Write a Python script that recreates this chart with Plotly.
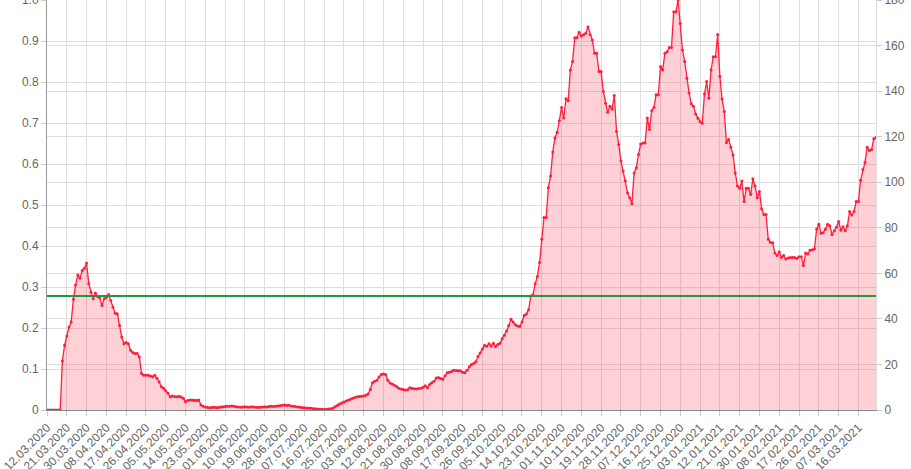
import plotly.graph_objects as go
import pandas as pd

start_date = "2020-03-12"

# daily values (right-axis units)
incidence = [
    0, 0, 0, 0, 0, 0, 0,
    21.5, 28.4, 32.5, 36.4, 38.6, 48.6, 54.9, 59.3, 57.8, 61.2, 62.2, 64.5,
    55.4, 51.7, 48.8, 51.4, 49.8, 49.3, 45.9, 48.8, 49.5, 50.7, 48.1, 45.1,
    42.5, 42.3, 37.1, 32.0, 29.1, 29.6, 29.1, 26.2, 25.2, 24.8, 24.8, 23.3,
    16.0, 15.3, 15.3, 15.3, 14.9, 14.6, 15.3, 13.9, 12.4, 10.2, 9.5, 8.4,
    7.3, 5.8, 6.1, 5.9, 5.8, 6.0, 5.7, 5.2, 3.6, 4.2, 4.4, 4.4, 4.2, 4.1, 4.4, 2.2,
    1.6, 1.3, 1.1, 1.0, 1.1, 1.2, 1.0, 1.1, 1.3, 1.4, 1.5, 1.7, 1.6, 1.8, 1.6, 1.4,
    1.3, 1.2, 1.3, 1.4, 1.3, 1.2, 1.4, 1.3, 1.2, 1.1, 1.2, 1.3, 1.4, 1.3,
    1.5, 1.6, 1.5, 1.7, 1.8, 1.9, 2.1, 2.2, 2.0, 2.1, 1.8, 1.6, 1.5, 1.3, 1.2,
    1.1, 1.0, 0.9, 0.8, 0.8, 0.6, 0.5, 0.4, 0.3, 0.3, 0.2, 0.3, 0.4, 0.6, 0.8,
    1.4, 2.0, 2.6, 3.1, 3.5, 3.9, 4.3, 4.7, 5.2, 5.5, 5.8, 5.9, 6.0, 6.2, 6.5, 7.0,
    9.0, 12.0, 12.6, 13.1, 14.5, 15.6, 15.8, 15.6, 13.1, 11.9, 11.4, 10.9, 10.3, 9.5,
    9.2, 9.0, 8.8, 8.9, 9.8, 9.5, 9.3, 9.2, 9.4, 9.5, 10.0, 10.6, 9.8, 11.2, 12.0,
    12.6, 14.0, 14.3, 13.8, 13.5, 15.0, 16.3, 16.6, 16.9, 17.4, 17.3, 17.2, 17.2, 16.6, 16.4,
    17.4, 19.0, 20.0, 20.4, 21.2, 23.5, 25.0, 26.8, 28.4, 28.0, 29.1, 28.1, 29.3, 27.9, 28.8,
    29.3, 31.3, 32.8, 34.7, 37.1, 39.8, 38.6, 37.4, 36.9, 36.7, 38.6, 41.5, 42.2, 44.0, 50.0, 50.6, 55.4, 58.6,
    64.8, 75.0, 84.5, 84.5, 97.6, 102.7, 113.3, 119.4, 121.9, 127.0, 132.8, 128.2, 136.7, 135.8, 149.3, 153.0,
    163.4, 163.4, 165.8, 164.2, 164.7, 165.4, 168.2, 164.7, 162.4, 156.6, 156.6, 148.6, 148.6, 139.8, 134.7, 130.7,
    133.3, 132.0, 138.1, 122.4, 116.6, 109.3, 104.9, 100.6, 95.4, 93.2, 90.6, 104.1, 106.3, 112.2, 116.8, 117.2,
    117.2, 128.2, 123.1, 131.4, 132.8, 138.4, 138.4, 150.8, 149.3, 156.6, 157.3, 159.1, 159.1, 174.8, 174.8, 180.0,
    169.7, 158.0, 153.0, 145.7, 139.2, 134.4, 133.3, 130.0, 128.1, 126.6, 125.9, 138.7, 144.2, 136.9, 149.3, 155.1,
    155.1, 164.9, 146.4, 136.5, 131.1, 117.3, 118.8, 115.4, 111.9, 104.1, 98.3, 97.3, 100.5, 91.5, 97.3, 97.3,
    94.6, 101.5, 98.3, 93.2, 95.9, 88.3, 85.8, 85.8, 75.0, 73.7, 73.4, 68.9, 67.8, 69.5, 67.0, 67.8,
    66.3, 66.7, 67.0, 67.0, 67.0, 66.5, 67.3, 67.3, 63.4, 68.9, 68.5, 70.1, 70.3, 70.7, 79.4, 81.6,
    77.6, 77.8, 79.4, 81.6, 80.9, 77.0, 78.7, 80.2, 82.8, 78.9, 80.4, 78.7, 80.9, 87.1, 85.6, 87.1,
    91.5, 91.5, 100.9, 105.6, 108.8, 115.4, 113.9, 114.4, 119.1, 119.6,
]

threshold = 50

tick_labels = [
    "12.03.2020", "21.03.2020", "30.03.2020", "08.04.2020", "17.04.2020", "26.04.2020",
    "05.05.2020", "14.05.2020", "23.05.2020", "01.06.2020", "10.06.2020", "19.06.2020",
    "28.06.2020", "07.07.2020", "16.07.2020", "25.07.2020", "03.08.2020", "12.08.2020",
    "21.08.2020", "30.08.2020", "08.09.2020", "17.09.2020", "26.09.2020", "05.10.2020",
    "14.10.2020", "23.10.2020", "01.11.2020", "10.11.2020", "19.11.2020", "28.11.2020",
    "07.12.2020", "16.12.2020", "25.12.2020", "03.01.2021", "12.01.2021", "21.01.2021",
    "30.01.2021", "08.02.2021", "17.02.2021", "26.02.2021", "07.03.2021", "16.03.2021",
]

left_ticks = [0, 0.1, 0.2, 0.3, 0.4, 0.5, 0.6, 0.7, 0.8, 0.9, 1.0]
left_tick_text = ["0", "0.1", "0.2", "0.3", "0.4", "0.5", "0.6", "0.7", "0.8", "0.9", "1.0"]
right_ticks = [0, 20, 40, 60, 80, 100, 120, 140, 160, 180]

dates = pd.date_range(start_date, periods=len(incidence), freq="D")
tickvals = pd.to_datetime(tick_labels, format="%d.%m.%Y")

LINE = "#ff1f3d"
GRID = "#dedede"
TXT = "#666666"
FONT = "Arial, 'Liberation Sans', sans-serif"

fig = go.Figure()
fig.add_trace(go.Scatter(x=[dates[0]], y=[0], yaxis="y", mode="markers",
                         marker=dict(opacity=0), hoverinfo="skip", showlegend=False))
fig.add_trace(go.Scatter(x=dates, y=incidence, yaxis="y2", mode="lines+markers",
                         line=dict(color=LINE, width=1.3),
                         marker=dict(size=3, color=LINE),
                         fill="tozeroy", fillcolor="rgba(255,40,70,0.22)",
                         showlegend=False))
fig.add_trace(go.Scatter(x=[dates[0], dates[-1]], y=[threshold, threshold], yaxis="y2",
                         mode="lines", line=dict(color="#1f9a3a", width=2),
                         hoverinfo="skip", showlegend=False))

fig.update_layout(
    width=911, height=469,
    margin=dict(l=47, r=35, t=0, b=59, autoexpand=False),
    plot_bgcolor="white", paper_bgcolor="white",
    font=dict(family=FONT, size=12, color=TXT),
    showlegend=False,
    xaxis=dict(range=[dates[0], dates[-1]], tickmode="array", tickvals=tickvals,
               ticktext=tick_labels, tickangle=-45, showgrid=True, gridcolor=GRID,
               showline=True, linecolor="#888888", linewidth=1, ticks="outside",
               ticklen=5, tickcolor="#cccccc", tickfont=dict(size=12, color=TXT),
               zeroline=False, automargin=False),
    yaxis=dict(range=[0, 1.0], tickmode="array", tickvals=left_ticks,
               ticktext=left_tick_text, showgrid=True, gridcolor=GRID,
               showline=True, linecolor="#999999", ticks="outside", ticklen=5,
               tickcolor="#cccccc", zeroline=False, tickfont=dict(size=12, color=TXT),
               automargin=False, ticklabeloverflow="allow"),
    yaxis2=dict(range=[0, 180], overlaying="y", side="right", tickmode="array",
                tickvals=right_ticks, showgrid=True, gridcolor=GRID,
                showline=True, linecolor="#dddddd", ticks="outside", ticklen=5,
                tickcolor="#cccccc", zeroline=False, tickfont=dict(size=12, color=TXT),
                automargin=False, ticklabeloverflow="allow"),
)

fig.write_html("out.html", config={"displayModeBar": False},
               post_script="document.body.style.margin='0';")
